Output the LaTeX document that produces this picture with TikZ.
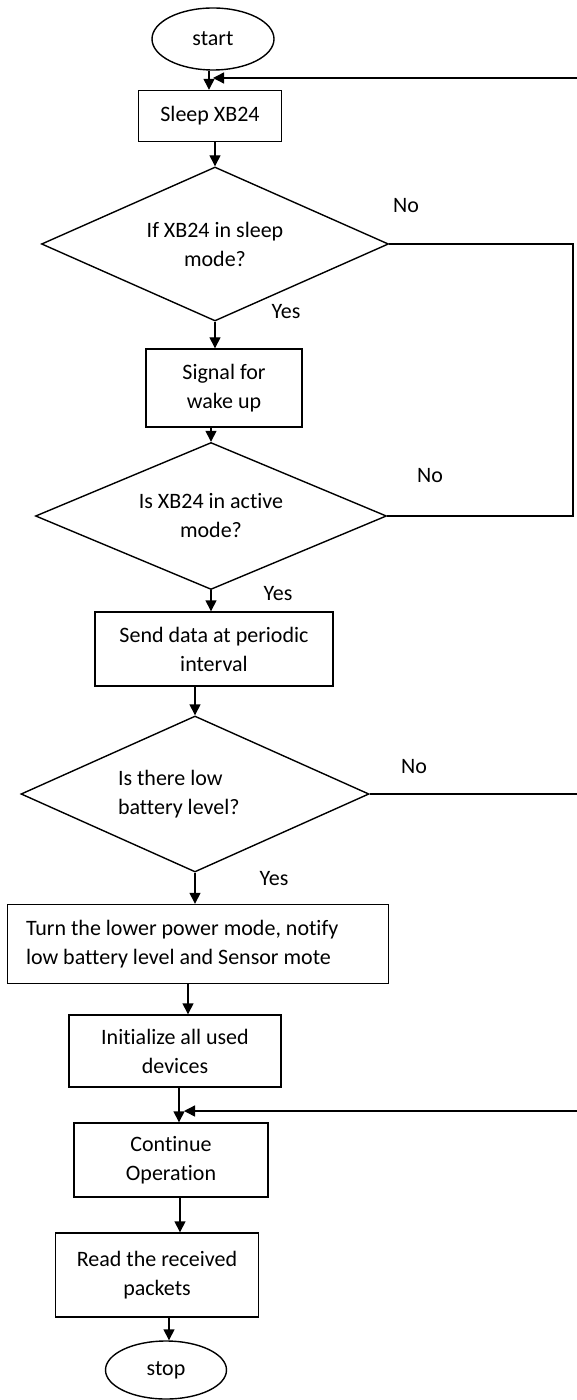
\documentclass[tikz,border=0pt]{standalone}
\usepackage{fontspec}
\setmainfont{Carlito}[Ligatures=NoCommon]
\usetikzlibrary{shapes.geometric,arrows.meta}

\begin{document}
\begin{tikzpicture}[x=0.5pt,y=-0.5pt,line width=0.7pt,
    >={Triangle[length=5.5pt,width=5.5pt]},
    every node/.style={font=\fontsize{11}{14.5}\selectfont},
    box/.style={draw,rectangle,align=center,inner sep=0pt},
    decision/.style={draw,diamond,aspect=2.25,inner sep=0pt,align=center},
    terminal/.style={draw,ellipse,inner sep=0pt}]
  \useasboundingbox (0,0) rectangle (577,1400);

  \node[terminal,minimum width=61pt,minimum height=31pt] (start) at (213,39) {start};
  \node[box,minimum width=71.5pt,minimum height=25.5pt] (sleep) at (210,116) {Sleep XB24};
  \node[decision,minimum width=173.5pt,minimum height=77pt] (d1) at (215,244) {If XB24 in sleep\\mode?};
  \node[box,minimum width=78pt,minimum height=39pt] (signal) at (224,388) {Signal for\\wake up};
  \node[decision,minimum width=175.5pt,minimum height=73.5pt] (d2) at (211,516) {Is XB24 in active\\mode?};
  \node[box,minimum width=119pt,minimum height=37pt] (send) at (214,649) {Send data at periodic\\interval};
  \node[decision,minimum width=174pt,minimum height=78pt,text width=77pt,align=flush left] (d3) at (195,794) {Is there low\\battery level?};
  \node[box,minimum width=190.5pt,minimum height=39.5pt,text width=172pt,align=flush left] (turn) at (198,944) {Turn the lower power mode, notify\\low battery level and Sensor mote};
  \node[box,minimum width=106pt,minimum height=36pt] (init) at (175,1051) {Initialize all used\\devices};
  \node[box,minimum width=97pt,minimum height=37pt] (cont) at (171,1160) {Continue\\Operation};
  \node[box,minimum width=101.5pt,minimum height=42pt] (read) at (157,1275) {Read the received\\packets};
  \node[terminal,minimum width=60.5pt,minimum height=29pt] (stop) at (166,1370) {stop};

  \foreach \a/\b/\x in {start/sleep/209,sleep/d1/215,d1/signal/215,signal/d2/211,d2/send/211,send/d3/195,
      d3/turn/195,turn/init/188,init/cont/179,cont/read/180,read/stop/169}
    \draw[->] (\a.south -| \x,0) -- (\b.north -| \x,0);

  \node (no1) at (406,206) {No};
  \node (no2) at (430,476) {No};
  \node (no3) at (414,767) {No};
  \node (yes1) at (286,312) {Yes};
  \node (yes2) at (278,594) {Yes};
  \node (yes3) at (274,879) {Yes};

  \coordinate (e1) at (577,78);
  \coordinate (j1) at (213,78);
  \draw[->] (e1) -- (j1);

  \coordinate (rr) at (573,0);
  \draw (d1.east) -- (d1.east -| rr) -- (d2.east -| rr) -- (d2.east);

  \coordinate (e3) at (577,0);
  \draw (d3.east) -- (d3.east -| e3);

  \coordinate (e4) at (577,1111);
  \coordinate (j4) at (184,1111);
  \draw[->] (e4) -- (j4);
\end{tikzpicture}
\end{document}
